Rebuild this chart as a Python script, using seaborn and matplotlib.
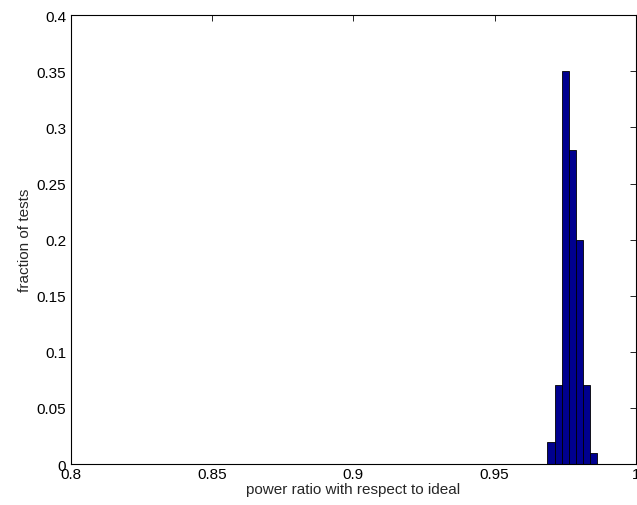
import numpy as np
import pandas as pd
import matplotlib
matplotlib.use("Agg")
import matplotlib.pyplot as plt
import seaborn as sns

# histogram of power ratio (bin centers and fraction of tests)
bin_centers = [0.97, 0.9725, 0.975, 0.9775, 0.98, 0.9825, 0.985]
fraction = [0.02, 0.07, 0.35, 0.28, 0.20, 0.07, 0.01]
bin_width = 0.0025
x_ticks = [0.8, 0.85, 0.9, 0.95, 1.0]
x_tick_labels = ["0.8", "0.85", "0.9", "0.95", "1"]
y_ticks = [0, 0.05, 0.1, 0.15, 0.2, 0.25, 0.3, 0.35, 0.4]
y_tick_labels = ["0", "0.05", "0.1", "0.15", "0.2", "0.25", "0.3", "0.35", "0.4"]

df = pd.DataFrame({"ratio": bin_centers, "frac": fraction})

sns.set_style("white")
plt.rcParams["font.family"] = ["Liberation Sans", "DejaVu Sans"]

fig = plt.figure(figsize=(6.37, 5.06), dpi=100)
ax = fig.add_axes([0.1115, 0.081, 0.8865, 0.887])

sns.histplot(data=df, x="ratio", weights="frac", binwidth=bin_width,
             binrange=(0.8 - bin_width / 2, 1.0 + bin_width / 2), ax=ax,
             color="#00008f", edgecolor="black", linewidth=0.6, alpha=1)

ax.set_xlim(0.8, 1.0)
ax.set_ylim(0, 0.4)
ax.set_xticks(x_ticks)
ax.set_xticklabels(x_tick_labels)
ax.set_yticks(y_ticks)
ax.set_yticklabels(y_tick_labels)
ax.tick_params(direction="in", top=True, right=True, length=4, labelsize=11,
               width=0.6, colors="black")
ax.tick_params(axis="x", pad=2)
for s in ax.spines.values():
    s.set_color("black")
    s.set_linewidth(0.8)
ax.set_xlabel("power ratio with respect to ideal", fontsize=11, labelpad=1)
ax.set_ylabel("fraction of tests", fontsize=11, labelpad=3)

fig.savefig("out.png", dpi=100)
